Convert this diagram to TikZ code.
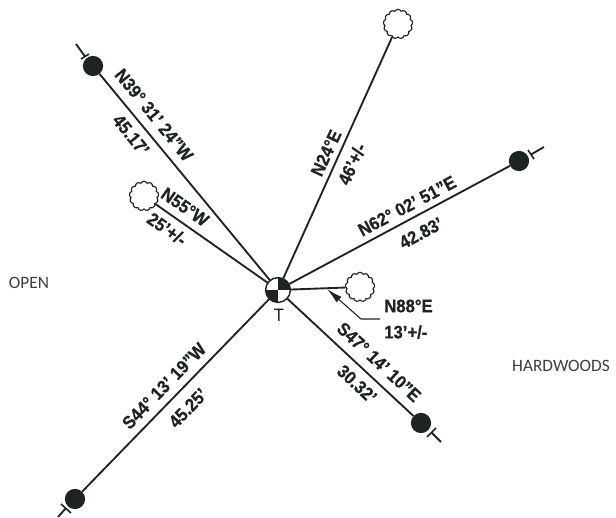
\documentclass[tikz,border=0pt]{standalone}
\usepackage{fontspec}
\setmainfont{Liberation Sans}[FakeStretch=0.92,BoldFeatures={FakeBold=0.6}]
\newfontfamily\plainfont{Carlito}
\usetikzlibrary{shapes.symbols,arrows.meta}
\definecolor{ink}{HTML}{1E2420}
\definecolor{soft}{HTML}{3A3F3C}
\tikzset{
  x=0.75pt,y=-0.75pt,
  ray/.style={draw=ink,line width=1.4pt},
  thin line/.style={draw=ink,line width=0.8pt},
  tick bar/.style={draw=ink,line width=1.2pt},
  dot/.style={circle,fill=ink,inner sep=0pt,minimum size=15.2pt},
  tree/.style={cloud,cloud puffs=13,cloud puff arc=130,aspect=1,draw=ink,fill=white,line width=0.85pt,inner sep=0pt,minimum width=22pt,minimum height=22pt},
  brg/.style={inner sep=0pt,font=\bfseries\fontsize{13.6pt}{15pt}\selectfont,text=ink},
  plain/.style={inner sep=0pt,font=\plainfont\fontsize{13pt}{15pt}\selectfont,text=soft},
}
\begin{document}
\begin{tikzpicture}
\useasboundingbox (0,0) rectangle (616,517);
\coordinate (c) at (278,290);
% trees and monuments
\node[tree] (t1) at (398,24) {};
\node[tree] (t2) at (144,196) {};
\node[tree] (t3) at (360,287) {};
\node[dot] (d1) at (93,66) {};
\node[dot] (d2) at (519,161) {};
\node[dot] (d3) at (421,423) {};
\node[dot] (d4) at (75,499) {};
% ticks
\coordinate (e1) at (76,44);  \coordinate (m1) at (85,56.5); \coordinate (e1a) at (81,59);  \coordinate (e1b) at (89,54);
\coordinate (e2) at (544,147); \coordinate (m2) at (531,154.5); \coordinate (e2a) at (528,150); \coordinate (e2b) at (534,159);
\coordinate (e3) at (441,442); \coordinate (m3) at (431.5,432.5); \coordinate (e3a) at (427,437); \coordinate (e3b) at (436,428);
\coordinate (e4) at (58,517); \coordinate (m4) at (66,508); \coordinate (e4a) at (61,504); \coordinate (e4b) at (71,513);
\draw[ray] (c) -- (t1);
\draw[ray] (c) -- (t2);
\draw[ray] (c) -- (t3);
\draw[ray] (c) -- (d1);
\draw[ray] (c) -- (d2);
\draw[ray] (c) -- (d3);
\draw[ray] (c) -- (d4);
\draw[ray] (m1) -- (e1);
\draw[ray] (m2) -- (e2);
\draw[ray] (m3) -- (e3);
\draw[ray] (m4) -- (e4);
\draw[tick bar] (e1a) -- (e1b);
\draw[tick bar] (e2a) -- (e2b);
\draw[tick bar] (e3a) -- (e3b);
\draw[tick bar] (e4a) -- (e4b);
% centre symbol
\node[circle,fill=white,inner sep=0pt,minimum size=19.5pt] (ctr) at (c) {};
\begin{scope}
\clip (c) circle[radius=12.6];
\fill[ink] (278,277) rectangle (291,290);
\fill[ink] (265,290) rectangle (278,303);
\end{scope}
\node[circle,draw=ink,line width=1.1pt,minimum size=18.6pt,inner sep=0pt] (ring) at (c) {};
% leader
\coordinate (lead0) at (380,319);
\coordinate (lead1) at (361,319);
\coordinate (lead2) at (327,289);
\draw[thin line,-{Latex[length=12pt,width=5.5pt]}] (lead0) -- (lead1) -- (lead2);
% labels
\node[inner sep=0pt,font=\fontsize{13.5pt}{15pt}\selectfont,text=ink] (tt) at (279,315.5) {T};
\node[brg,rotate=-51] (a1) at (154,115) {N39° 31' 24"W};
\node[brg,rotate=-51] (a2) at (131,135) {45.17'};
\node[brg,rotate=-35] (a3) at (185,207) {N55°W};
\node[brg,rotate=-35] (a4) at (167,229) {25'+/-};
\node[brg,rotate=65] (a5) at (326,153) {N24°E};
\node[brg,rotate=65] (a6) at (352,164) {46'+/-};
\node[brg,rotate=28] (a7) at (407,206) {N62° 02' 51"E};
\node[brg,rotate=28] (a8) at (421,233) {42.83'};
\node[brg,anchor=west] (a9) at (384,306) {N88°E};
\node[brg,anchor=west] (a10) at (384,332) {13'+/-};
\node[brg,rotate=-43] (a11) at (379,362) {S47° 14' 10"E};
\node[brg,rotate=-43] (a12) at (357,384) {30.32'};
\node[brg,rotate=46] (a13) at (164,386) {S44° 13' 19"W};
\node[brg,rotate=46] (a14) at (188,408) {45.25'};
\node[plain] (open) at (29,283) {OPEN};
\node[plain] (hw) at (561,366) {HARDWOODS};
\end{tikzpicture}
\end{document}
